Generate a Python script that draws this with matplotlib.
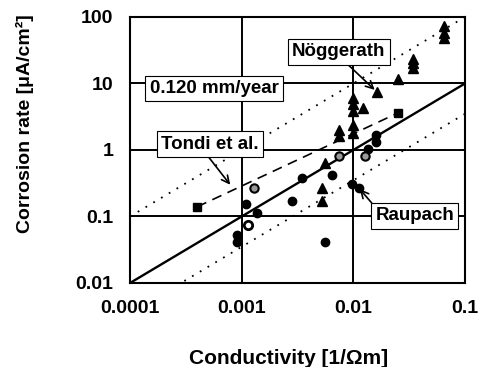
#!/usr/bin/env python3
"""Corrosion rate vs. conductivity, log-log with reference lines."""

import matplotlib.pyplot as plt
import numpy as np

plt.rcParams["font.family"] = ["Liberation Sans", "DejaVu Sans"]
plt.rcParams["font.weight"] = "bold"

# Raupach (black circles)
raupach_x = [0.0009, 0.0009, 0.0011, 0.00136, 0.00285, 0.0035, 0.0065,
             0.0056, 0.0098, 0.0112, 0.0159, 0.0159, 0.0135]
raupach_y = [0.052, 0.041, 0.156, 0.111, 0.17, 0.38, 0.42,
             0.042, 0.31, 0.27, 1.68, 1.32, 1.04]

# open circle
open_x = [0.00113]
open_y = [0.075]

# Tondi et al. (squares + grey circles)
tondi_sq_x = [0.0004, 0.025]
tondi_sq_y = [0.14, 3.6]
tondi_circ_x = [0.0013, 0.0074, 0.0128]
tondi_circ_y = [0.27, 0.8, 0.8]

# Noggerath (triangles)
nog_x = [0.0052, 0.0052, 0.0056, 0.0074, 0.0074, 0.01, 0.01, 0.01, 0.01,
         0.01, 0.0121, 0.0162, 0.025, 0.034, 0.034, 0.034, 0.065, 0.065, 0.065]
nog_y = [0.27, 0.17, 0.64, 2.0, 1.6, 6.0, 4.9, 3.8, 2.4,
         1.8, 4.3, 7.5, 11.5, 23, 20, 17, 72, 58, 48]

# reference lines: rate = factor * conductivity
line_x = [0.0001, 0.1]
mid_factor = 100
upper_factor = 1000
lower_factor = 35

x_ticks = [0.0001, 0.001, 0.01, 0.1]
x_labels = ["0.0001", "0.001", "0.01", "0.1"]
y_ticks = [0.01, 0.1, 1, 10, 100]
y_labels = ["0.01", "0.1", "1", "10", "100"]


def main() -> None:
    fig = plt.figure(figsize=(4.81, 3.67), dpi=100)
    ax = fig.add_axes([0.2703, 0.2289, 0.6964, 0.7248])
    ax.set_xscale("log")
    ax.set_yscale("log")
    ax.set_xlim(0.0001, 0.1)
    ax.set_ylim(0.01, 100)

    for v in x_ticks[1:-1]:
        ax.axvline(v, color="black", lw=1.4, zorder=1)
    for v in y_ticks[1:-1]:
        ax.axhline(v, color="black", lw=1.4, zorder=1)

    lx = np.array(line_x)
    ax.plot(lx, mid_factor * lx, color="black", lw=1.7, zorder=2)
    ax.plot(lx, upper_factor * lx, color="black", lw=1.3,
            linestyle=(0, (1, 4)), zorder=2)
    ax.plot(lx, lower_factor * lx, color="black", lw=1.3,
            linestyle=(0, (1, 4)), zorder=2)
    ax.plot(tondi_sq_x, tondi_sq_y, color="black", lw=1.2,
            linestyle=(0, (6, 4)), zorder=2)

    ax.plot(raupach_x, raupach_y, "o", color="black", ms=6, zorder=3)
    ax.plot(open_x, open_y, "o", mfc="white", mec="black", mew=2, ms=6, zorder=3)
    ax.plot(tondi_sq_x, tondi_sq_y, "s", color="black", ms=6, zorder=3)
    ax.plot(tondi_circ_x, tondi_circ_y, "o", mfc="#9a9a9a", mec="black",
            mew=1.5, ms=6, zorder=3)
    ax.plot(nog_x, nog_y, "^", color="black", ms=6.5, zorder=3)

    box = dict(boxstyle="square,pad=0.22", fc="white", ec="black", lw=0.8)
    arrow = dict(arrowstyle="->", color="black", lw=1.2, shrinkA=0, shrinkB=2)
    ax.annotate("Nöggerath", xy=(0.0162, 7.5), xytext=(0.00743, 29.8),
                ha="center", va="center", fontsize=13.5, fontweight="bold",
                bbox=box, arrowprops=dict(arrow, relpos=(0.55, 0)), zorder=5)
    ax.text(0.000565, 8.3, "0.120 mm/year", ha="center", va="center",
            fontsize=13.5, fontweight="bold", bbox=box, zorder=5)
    ax.annotate("Tondi et al.", xy=(0.000818, 0.278), xytext=(0.00052, 1.23),
                ha="center", va="center", fontsize=13.5, fontweight="bold",
                bbox=box, arrowprops=dict(arrow, relpos=(0.45, 0)), zorder=5)
    ax.annotate("Raupach", xy=(0.011, 0.278), xytext=(0.0356, 0.102),
                ha="center", va="center", fontsize=13.5, fontweight="bold",
                bbox=box, arrowprops=dict(arrow, relpos=(0, 1)), zorder=5)

    ax.set_xticks(x_ticks)
    ax.set_xticklabels(x_labels)
    ax.set_yticks(y_ticks)
    ax.set_yticklabels(y_labels)
    ax.minorticks_off()
    ax.tick_params(length=0, labelsize=14, pad=12)
    for lab in ax.get_xticklabels() + ax.get_yticklabels():
        lab.set_fontweight("bold")
    for sp in ax.spines.values():
        sp.set_linewidth(1.5)

    fig.text(289 / 481, 1 - 358 / 367, "Conductivity [1/Ωm]", ha="center",
             va="center", fontsize=15, fontweight="bold")
    fig.text(25 / 481, 1 - 124 / 367, "Corrosion rate [μA/cm²]", ha="center",
             va="center", rotation=90, fontsize=14, fontweight="bold")

    fig.savefig("out.png", dpi=100)
    plt.close(fig)


if __name__ == "__main__":
    main()
